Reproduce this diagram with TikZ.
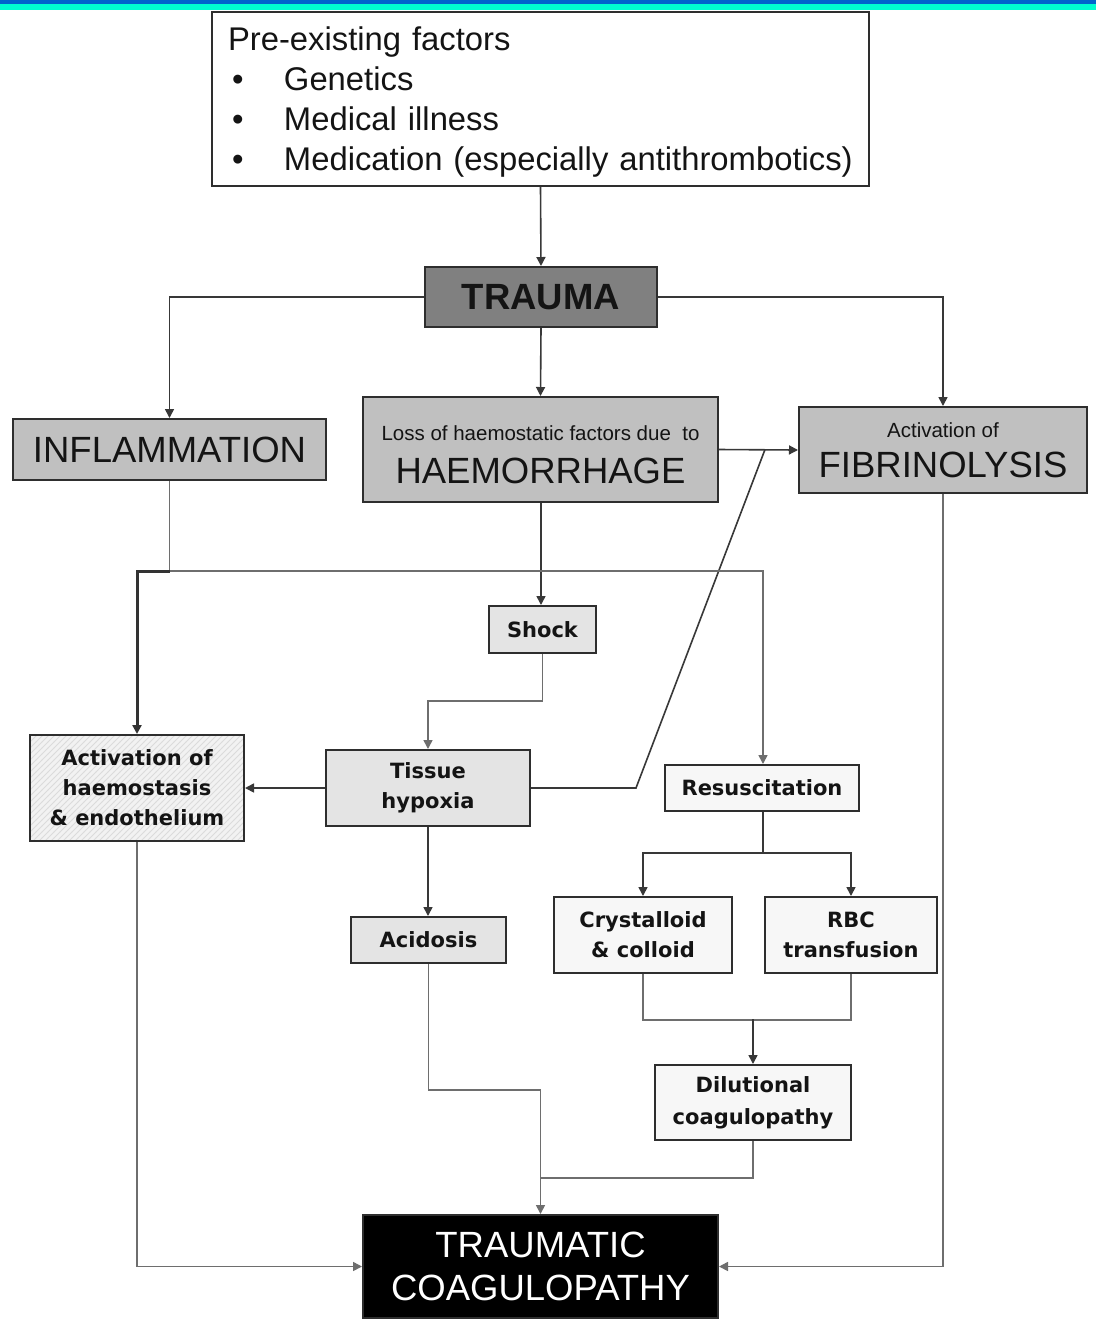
\documentclass[tikz,border=0pt]{standalone}
\usepackage{fontspec}
\setmainfont{Liberation Sans}
\newfontfamily\vfont{DejaVu Sans}
\usetikzlibrary{arrows.meta,patterns}
\definecolor{bandblue}{HTML}{0066CC}
\definecolor{bandcyan}{HTML}{00FFD0}
\definecolor{bordercol}{HTML}{2E2E2E}
\definecolor{linecol}{HTML}{383838}
\definecolor{lightline}{HTML}{6E6E6E}
\definecolor{midgray}{HTML}{808080}
\definecolor{boxgray}{HTML}{C0C0C0}
\definecolor{dotgray}{HTML}{E4E4E4}
\definecolor{dotwhite}{HTML}{F7F7F7}
\definecolor{txt}{HTML}{141414}
\newcommand{\bigtxt}{\fontsize{18.25}{21.5}\selectfont}
\newcommand{\smalltxt}{\fontsize{10.25}{12}\selectfont}
\newcommand{\boldtxt}{\vfont\bfseries\fontsize{10.5}{15}\selectfont}
\begin{document}
\begin{tikzpicture}[x=0.5pt,y=-0.5pt,
  box/.style={draw=bordercol, line width=1pt, inner sep=0pt, align=center, text=txt},
  conn/.style={draw=linecol, line width=0.8pt},
  lconn/.style={draw=lightline, line width=0.8pt},
  tconn/.style={draw=black!80, line width=1.5pt},
  arr/.style={-{Triangle[length=4.5pt,width=4.5pt]}}
]
\useasboundingbox (0,0) rectangle (1096,1330);
\fill[white] (0,0) rectangle (1096,1330);
\fill[bandblue] (0,0) rectangle (1096,4);
\fill[bandcyan] (0,4) rectangle (1096,10);

% nodes
\node[box, fill=white, minimum height=87pt, text width=312.5pt, inner xsep=8pt, align=left,
      font=\fontsize{16.4}{19.9}\selectfont] (pre) at (540.5,99)
  {\hyphenpenalty=10000 \raisebox{0pt}[\dimexpr\height+3pt\relax]{Pre-existing factors}\\
   \makebox[28pt][l]{\hspace{2pt}•}Genetics\\
   \makebox[28pt][l]{\hspace{2pt}•}Medical illness\\
   \makebox[28pt][l]{\hspace{2pt}•}\mbox{Medication (especially antithrombotics)}};

\node[box, fill=midgray, minimum width=116pt, minimum height=30pt, font=\bigtxt\bfseries] (trauma) at (541,297) {TRAUMA};

\node[box, fill=boxgray, minimum width=156.5pt, minimum height=30.5pt, font=\bigtxt] (inflam) at (169.5,449.5) {INFLAMMATION};

\node[box, fill=boxgray, minimum width=177.5pt, minimum height=52.5pt, font=\fontsize{18.25}{21.5}\selectfont] (haem) at (540.5,449.5)
  {\raisebox{0pt}[\dimexpr\height+5pt\relax]{\smalltxt Loss of haemostatic factors due \ to}\\ HAEMORRHAGE};

\node[box, fill=boxgray, minimum width=144pt, minimum height=43pt, font=\fontsize{18.25}{20}\selectfont] (fib) at (943,450)
  {{\smalltxt Activation of}\\ FIBRINOLYSIS};

\node[box, fill=dotgray, minimum width=53.5pt, minimum height=23.5pt, font=\boldtxt] (shock) at (542.5,629.5) {Shock};

\node[box, fill=dotgray, minimum width=102pt, minimum height=38pt, font=\boldtxt] (tissue) at (428,788) {Tissue\\hypoxia};

\node[box, preaction={fill=black!5}, pattern=north east lines, pattern color=black!14,
      minimum width=107pt, minimum height=53pt, font=\boldtxt] (act) at (137,788)
  {Activation of\\haemostasis\\\& endothelium};

\node[box, fill=dotwhite, minimum width=97pt, minimum height=23pt, font=\boldtxt] (resus) at (762,788) {Resuscitation};

\node[box, fill=dotgray, minimum width=77.5pt, minimum height=23pt, font=\boldtxt] (acid) at (428.5,940) {Acidosis};

\node[box, fill=dotwhite, minimum width=89pt, minimum height=38pt, font=\boldtxt] (cryst) at (643,935) {Crystalloid\\\& colloid};

\node[box, fill=dotwhite, minimum width=86pt, minimum height=38pt, font=\boldtxt] (rbc) at (851,935) {RBC\\transfusion};

\node[box, fill=dotwhite, minimum width=98pt, minimum height=37.5pt, font=\vfont\bfseries\fontsize{10.5}{16}\selectfont] (dil) at (753,1102.5) {Dilutional\\coagulopathy};

\node[box, fill=black, text=white, minimum width=177.5pt, minimum height=51.5pt, font=\fontsize{18.25}{21.5}\selectfont] (tc) at (540.5,1266.5) {TRAUMATIC\\COAGULOPATHY};

% helper coordinates
\coordinate (busL) at (137,571);
\coordinate (busR) at (763,571);
\coordinate (kink) at (636,788);
\coordinate (join) at (765,449.5);
\coordinate (rs) at (763,853);
\coordinate (cj) at (753,1019);
\coordinate (dj) at (541,1178);

% connectors
\draw[conn, arr] (pre.south) -- (trauma.north);
\draw[conn, arr] (trauma.west) -| (inflam.north);
\draw[conn, arr] (trauma.east) -| (fib.north);
\draw[conn, arr] (trauma.south) -- (haem.north);
\draw[conn, arr] (haem.east) -- (fib.west);
\draw[conn] (tissue.east) -- (kink) -- (join);
\draw[conn, arr] (haem.south -| trauma.south) -- (shock.north -| trauma.south);
\draw[lconn] (inflam.south) -- (inflam.south |- busL);
\draw[lconn, arr] (inflam.south |- busL) -- (busR) -- (resus.north -| busR);
\draw[tconn, arr] (inflam.south |- busL) -- (busL) -- (act.north);
\draw[lconn, arr] (shock.south) -- ++(0,47) -| (tissue.north);
\draw[conn, arr] (tissue.west) -- (act.east);
\draw[conn, arr] (tissue.south) -- (acid.north -| tissue.south);
\draw[conn] (resus.south -| rs) -- (rs);
\draw[conn, arr] (rs) -| (cryst.north);
\draw[conn, arr] (rs) -| (rbc.north);
\draw[lconn] (cryst.south) -- ++(0,46) -| (rbc.south);
\draw[conn, arr] (cj) -- (dil.north);
\draw[lconn, arr] (acid.south) -- ++(0,126) -| (tc.north);
\draw[lconn] (dil.south) |- (dj);
\draw[lconn, arr] (act.south) |- (tc.west);
\draw[lconn, arr] (fib.south) |- (tc.east);
\end{tikzpicture}
\end{document}
